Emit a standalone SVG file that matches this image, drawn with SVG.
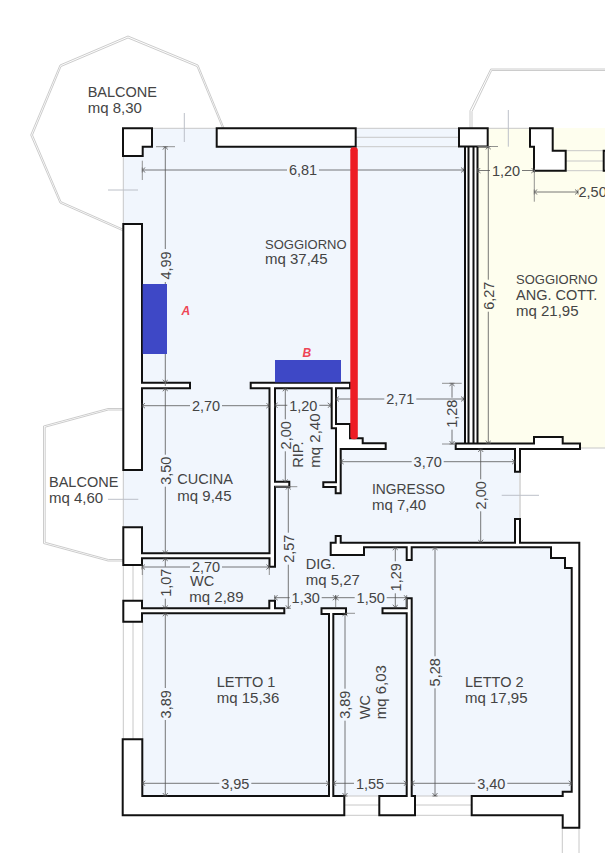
<svg xmlns="http://www.w3.org/2000/svg" width="605" height="853" viewBox="0 0 605 853">
<style>
.wall{fill:#fff;stroke:#111;stroke-width:2;stroke-linejoin:miter}
.line{fill:none;stroke:#111;stroke-width:2}
.bal{fill:none;stroke:#c6c6c6;stroke-width:.9}
.win{fill:none;stroke:#c8c8c8;stroke-width:1}
.dim{fill:none;stroke:#555;stroke-width:.8;marker-start:url(#a);marker-end:url(#a)}
.ext{fill:none;stroke:#777;stroke-width:.8}
.tk{fill:none;stroke:#bcc0c8;stroke-width:1}
text{font-family:"Liberation Sans",Arial,sans-serif;font-size:14.5px;fill:#444}
.m{font-size:15px}
.s{font-size:13px}
.d{text-anchor:middle}
.lab{font-size:12px;font-weight:bold;font-style:italic;fill:#ee4455}
</style>
<defs><marker id="a" viewBox="-4 -3 8 6" markerWidth="8" markerHeight="6" orient="auto-start-reverse" markerUnits="userSpaceOnUse"><path d="M-3,-2.500L0,0L-3,2.500M0,-2.500V2.500" fill="none" stroke="#444" stroke-width=".7"/></marker></defs>
<rect width="605" height="853" fill="#fff"/>
<g id="floors">
<path d="M123,128H490V444H520V543H572V796H142V565H123Z" fill="#f1f6fd"/>
<path d="M478,128H605V448H478Z" fill="#fefeee"/>
</g>
<g id="balconies">
<path class="bal" d="M122.700,230.700L60,203L30.700,135L60,65L128,36L198,65L224,128"/>
<path class="bal" d="M122.700,229L61,201.700L32.500,135L61,66.500L128,38L197,66.500L222.500,128"/>
<path class="bal" d="M123.300,408.500H108L43.500,426V543.500L108,561H123.300"/>
<path class="bal" d="M123.300,410H108.300L45.200,427.200V542.300L108.300,559.500H123.300"/>
<path class="bal" d="M470,128V110.700L490.700,69H605"/>
<path class="bal" d="M472,128V111.500L491.700,70.500H605"/>
<path class="win" d="M152,128.300H217M123.300,156V224M123.300,470V527M355,128.300H459M355,137.300H459M355,146.700H459M487,128.300H530M566,150.700H604M566,161H604M566,170.700H604M123.300,565V601M133,565V601M142.700,565V601M123.300,621V740M133,621V740M142.700,621V740M344.300,805H379.300M344.300,815.300H379.300M415,805H471.700M415,815.300H471.700M562.300,828V853M579,828V853M580,448H605M345,796H379M415,796H471"/>
<path d="M520,472V519" fill="none" stroke="#dcdcdc" stroke-width="2"/>
</g>
<g id="ticks">
<path class="tk" d="M184.300,113V142M108,190H138M508.300,110V146.700M108,499.300H138.300M501.700,495.300H539"/>
</g>
<g id="walls">
<path class="wall" d="M123,128.300H152V146.700H142.700V156H123Z"/>
<path class="wall" d="M216.700,128.300H355.700V146.700H216.700Z"/>
<rect x="465" y="146" width="12.500" height="298" fill="#fff"/>
<path class="wall" d="M459,128.300H487.700V146.500H459Z"/>
<path class="line" d="M465,146.500V444M468.500,146.500V444M473.500,146.500V444M477.500,146.500V444"/>
<path class="wall" d="M530,128.300H552.700V150.700H565.700V170.700H534V146.700H530Z"/>
<path class="wall" d="M606,150.700H603.700V170.700H606"/>
<path class="wall" d="M123.300,224H142V382.700H190V388.300H142V470H123.300Z"/>
<path class="wall" d="M123.300,527.300H142V553.300H269.500V388.300H250.700V382.700H350V388.300H336V424H350V438.300H362.700V443.300H385.700V449H340.700V493.300H335.700V487H323.300V482.300H336V428.300H331.700V388.300H275V481.700H289.300V486.700H275V566.700H269.500V558.300H142V565H123.300Z"/>
<path class="wall" d="M455.700,443.500H534V437H562.700V443.500H580V449H520V471.700H515V449H455.700Z"/>
<path class="wall" d="M330.700,542.700H335.700V536H340.700V542.700H515V519H520V542.700H579.300V827.700H562.700V815.300H471.700V796H562.700V791.700H571.700V568H565V558H551V547.300H411.700V560H406.700V547.300H364V555H330.700Z"/>
<path class="wall" d="M123.300,600.700H142V608.300H269.300V600.700H275V608.300H284.300V613.300H142V621.700H123.300Z"/>
<path class="wall" d="M122.700,739.300H142.300V796H329V614H321.500V608.300H346V614H333.300V796H344.300V815.300H122.700Z"/>
<path class="wall" d="M379.300,796H406.700V613.300H382.500V608.300H406.700V598.300H411.700V796H415V815.300H379.300Z"/>
</g>
<g id="connectors">
<path class="dim" d="M142.300,170H287M319,170H464"/>
<path class="dim" d="M477.500,170.500H490M522,170.500H534.300"/>
<path class="dim" d="M534.300,192H578"/>
<path class="dim" d="M165.300,146.700V249M165.300,282V382.700"/>
<path class="dim" d="M142,405.700H190M222,405.700H269.300"/>
<path class="dim" d="M165.300,388.300V454.700M165.300,486.700V553.300"/>
<path class="dim" d="M142,567H190M222,567H269.300"/>
<path class="dim" d="M165.300,558.300V566.700M165.300,598.700V608.300"/>
<path class="dim" d="M165.300,613.300V688M165.300,720V796"/>
<path class="dim" d="M142.300,783.300H219.300M251.300,783.300H329"/>
<path class="dim" d="M274.700,405.300H287.300M319.300,405.300H330.700"/>
<path class="dim" d="M285.300,388.300V419.300M285.300,451.300V482.300"/>
<path class="dim" d="M288.300,486.700V532.700M288.300,564.700V608.300"/>
<path class="dim" d="M274.700,597.700H289.700M321.700,597.700H335.700"/>
<path class="dim" d="M335.700,597.700H354.700M386.700,597.700H406.700"/>
<path class="dim" d="M336,399H384.300M416.300,399H464"/>
<path class="dim" d="M340.700,461.700H411.700M443.700,461.700H515"/>
<path class="dim" d="M452,383.300V397.700M452,429.700V444"/>
<path class="dim" d="M488.300,146.500V279.700M488.300,311.700V443.500"/>
<path class="dim" d="M480.700,449V479.300M480.700,511.300V542.700"/>
<path class="dim" d="M395.300,547.300V561.300M395.300,593.300V607.700"/>
<path class="dim" d="M435,547.300V656.300M435,688.300V796"/>
<path class="dim" d="M345,613.300V688.700M345,720.700V796"/>
<path class="dim" d="M333.300,783.300H354M386,783.300H406.700"/>
<path class="dim" d="M411.700,783.300H475.300M507.300,783.300H571.700"/>
<path class="ext" d="M142.300,160.700V180M534.300,170V201.700M156,146.700H175M477.500,146.500H498M142.300,567V575M269.300,567V575M442,383.300H461.700M442,444H456M275,486.700H297.300M346,613.300H355M335.700,597.700V607M406.700,598V608M165.300,380V386"/>
</g>
<g id="labels">
<text x="87.700" y="97.300">BALCONE</text><text class="m" x="87.700" y="112.700">mq 8,30</text>
<text class="s" x="265" y="249.300">SOGGIORNO</text><text class="m" x="265" y="264.300">mq 37,45</text>
<text class="s" x="516" y="284">SOGGIORNO</text><text x="516" y="300">ANG. COTT.</text><text class="m" x="516" y="316">mq 21,95</text>
<text x="49" y="486.700">BALCONE</text><text class="m" x="49" y="502.700">mq 4,60</text>
<text x="177.300" y="484">CUCINA</text><text class="m" x="177.300" y="500.700">mq 9,45</text>
<text x="372" y="494" textLength="73" lengthAdjust="spacingAndGlyphs">INGRESSO</text><text class="m" x="372" y="510">mq 7,40</text>
<text x="190" y="585.700">WC</text><text class="m" x="189.300" y="601.700">mq 2,89</text>
<text x="305.700" y="569">DIG.</text><text class="m" x="305.700" y="585">mq 5,27</text>
<text x="216.700" y="687.300">LETTO 1</text><text class="m" x="216.700" y="703.300">mq 15,36</text>
<text x="465" y="687.300">LETTO 2</text><text class="m" x="465" y="703.300">mq 17,95</text>
<text transform="translate(303.300,467.700) rotate(-90)">RIP.</text><text class="m" transform="translate(320,467.700) rotate(-90)">mq 2,40</text>
<text transform="translate(370,719.300) rotate(-90)">WC</text><text class="m" transform="translate(386,719.300) rotate(-90)">mq 6,03</text>
<text class="d" x="303" y="175.200">6,81</text>
<text class="d" x="506" y="175.700">1,20</text>
<text x="578.500" y="197.200">2,50</text>
<text class="d" x="206" y="410.900">2,70</text>
<text class="d" x="303.300" y="410.500">1,20</text>
<text class="d" x="400.300" y="404.200">2,71</text>
<text class="d" x="427.700" y="466.900">3,70</text>
<text class="d" x="206" y="572.200">2,70</text>
<text class="d" x="305.700" y="602.900">1,30</text>
<text class="d" x="370.700" y="602.900">1,50</text>
<text class="d" x="235.300" y="788.500">3,95</text>
<text class="d" x="370" y="788.500">1,55</text>
<text class="d" x="491.300" y="788.500">3,40</text>
<text class="d" transform="translate(170.500,265.500) rotate(-90)">4,99</text>
<text class="d" transform="translate(170.500,470.700) rotate(-90)">3,50</text>
<text class="d" transform="translate(170.500,582.700) rotate(-90)">1,07</text>
<text class="d" transform="translate(170.500,704.300) rotate(-90)">3,89</text>
<text class="d" transform="translate(350.200,704.700) rotate(-90)">3,89</text>
<text class="d" transform="translate(290.500,435.300) rotate(-90)">2,00</text>
<text class="d" transform="translate(293.500,548.700) rotate(-90)">2,57</text>
<text class="d" transform="translate(457.200,413.700) rotate(-90)">1,28</text>
<text class="d" transform="translate(493.500,295.700) rotate(-90)">6,27</text>
<text class="d" transform="translate(485.900,495.300) rotate(-90)">2,00</text>
<text class="d" transform="translate(400.500,577.300) rotate(-90)">1,29</text>
<text class="d" transform="translate(440.200,672.300) rotate(-90)">5,28</text>
</g>
<g id="markers">
<rect x="142.700" y="284" width="24.300" height="70" fill="#3e48c6"/>
<rect x="275" y="360" width="66" height="22.300" fill="#3e48c6"/>
<rect x="350.300" y="147.300" width="7.500" height="292" rx="3" fill="#ed1c24"/>
<text class="lab" x="181.500" y="315">A</text>
<text class="lab" x="302.500" y="356.700">B</text>
</g>
</svg>
